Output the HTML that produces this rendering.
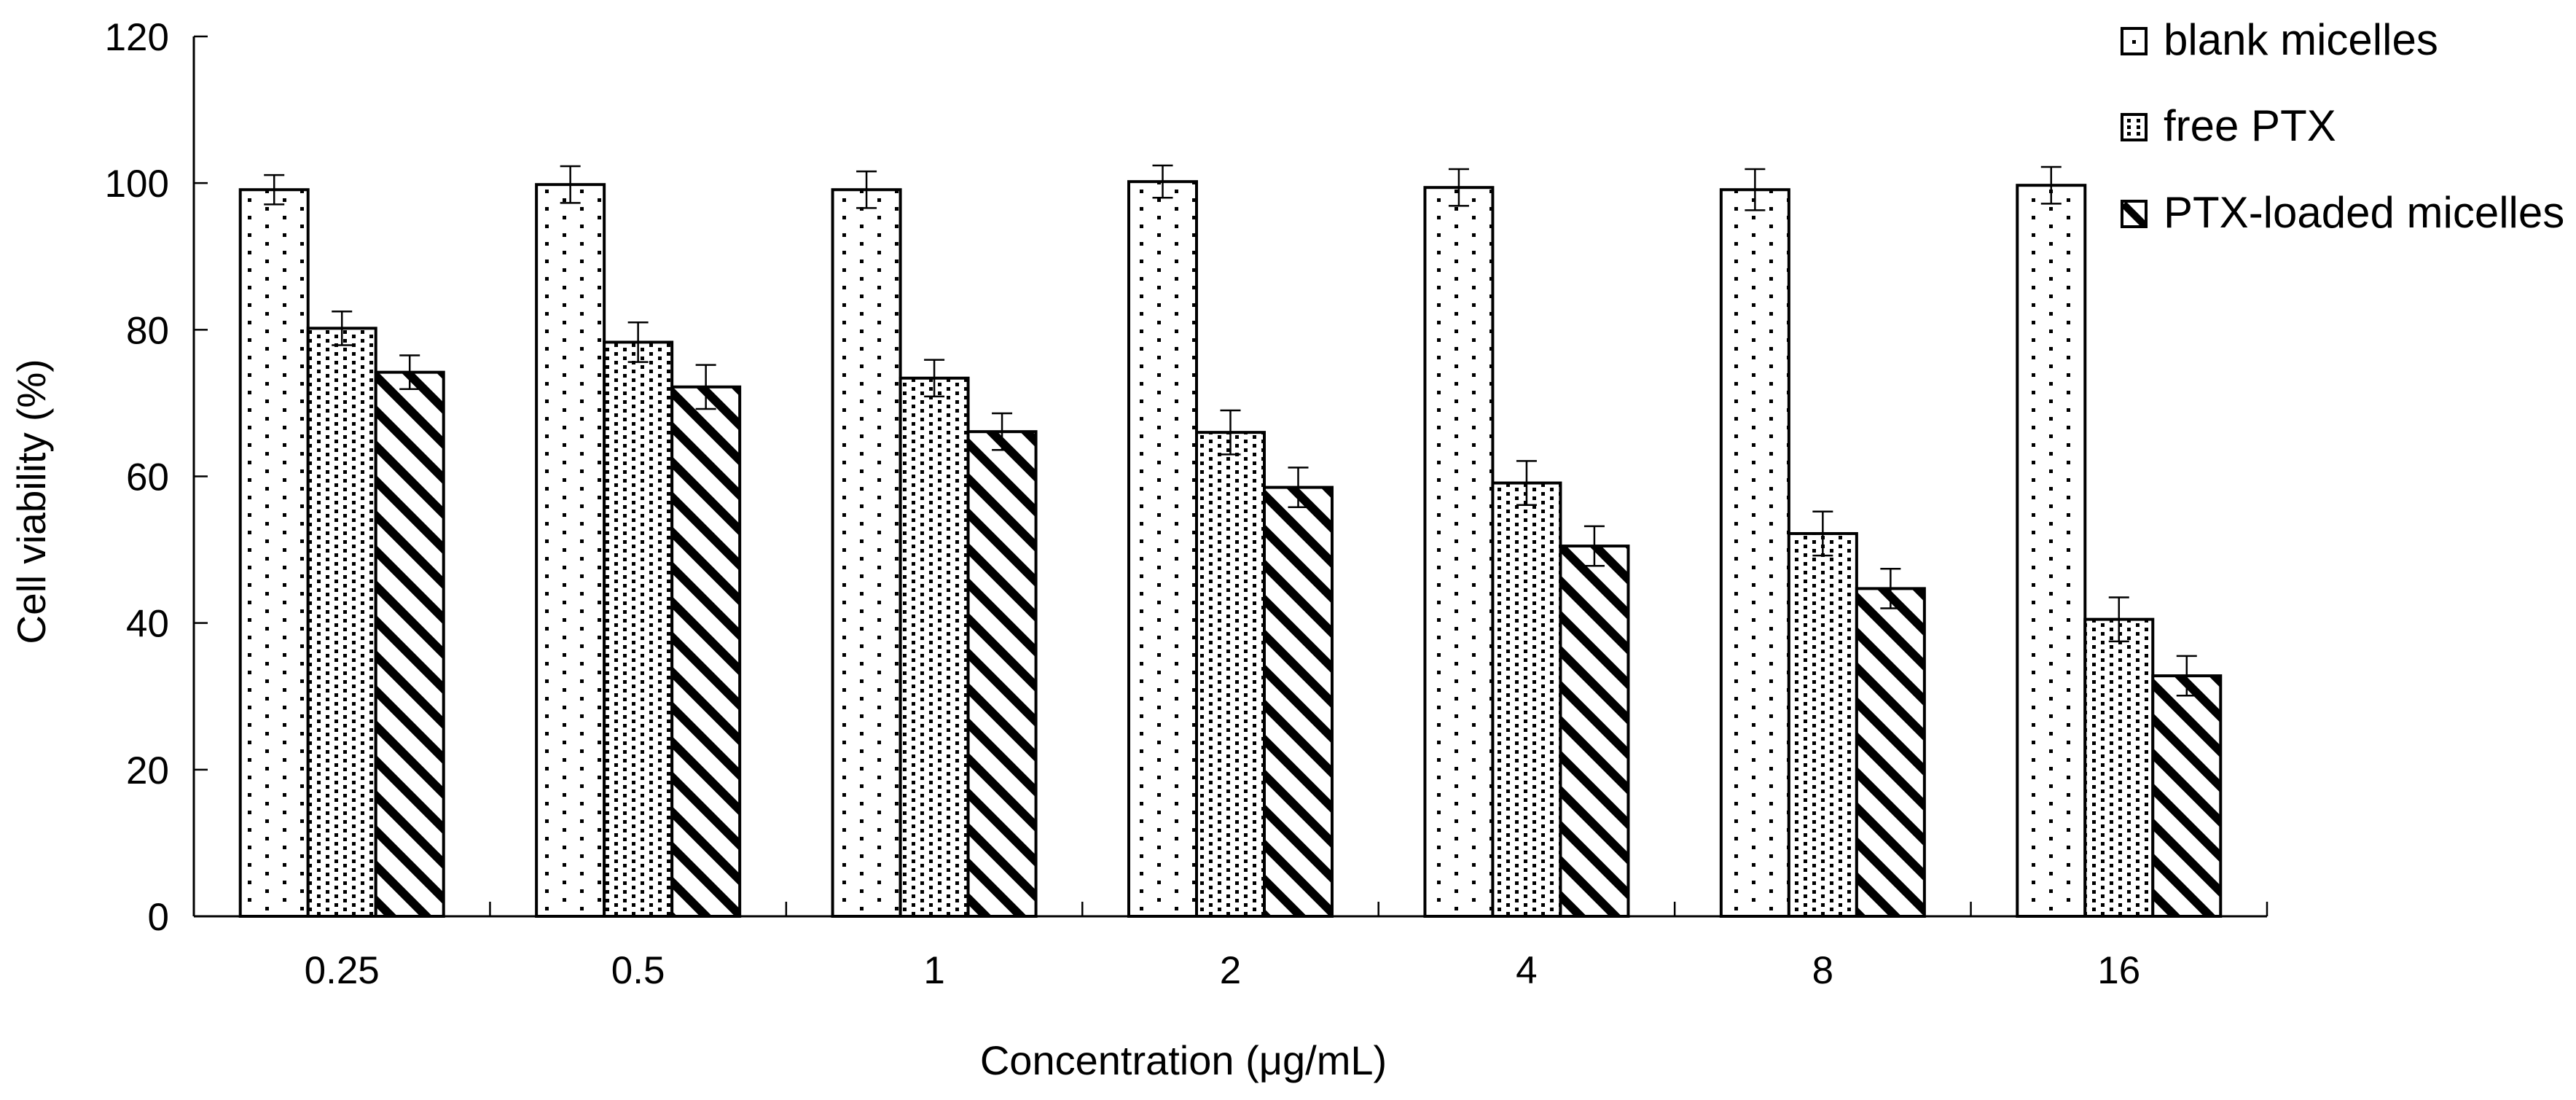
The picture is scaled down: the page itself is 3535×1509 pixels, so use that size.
<!DOCTYPE html>
<html><head><meta charset="utf-8">
<style>
html,body{margin:0;padding:0;background:#fff;}
svg{display:block;font-family:"Liberation Sans",Arial,sans-serif;}
</style></head>
<body>
<svg id="chart" width="3535" height="1509" viewBox="0 0 3535 1509" xmlns="http://www.w3.org/2000/svg">
<defs>
<pattern id="pBlank" patternUnits="userSpaceOnUse" width="48" height="24" x="340" y="8">
<rect x="0" y="0" width="48" height="24" fill="#fff"/>
<rect x="0" y="0" width="5" height="5" fill="#000"/>
<rect x="24" y="12" width="5" height="5" fill="#000"/>
</pattern>
<pattern id="pFree" patternUnits="userSpaceOnUse" width="24" height="12" x="3" y="3">
<rect x="0" y="0" width="24" height="12" fill="#fff"/>
<rect x="0" y="0" width="5" height="5" fill="#000"/>
<rect x="12" y="6" width="5" height="5" fill="#000"/>
</pattern>
<pattern id="pPtx" patternUnits="userSpaceOnUse" width="48" height="48">
<rect x="0" y="0" width="48" height="48" fill="#fff"/>
<path d="M-12,-12 L60,60 M-12,36 L12,60 M36,-12 L60,12" stroke="#000" stroke-width="12"/>
</pattern>
</defs>
<g id="plot"></g>
<text x="0" y="0" transform="translate(62,688) rotate(-90)" font-size="55" text-anchor="middle">Cell viability (%)</text>
<text x="1624" y="1474" font-size="56" text-anchor="middle">Concentration (μg/mL)</text>
<g>
<g>
<rect x="2912" y="39" width="33" height="35" fill="#fff" stroke="#000" stroke-width="4"/>
<rect x="2926" y="55" width="5" height="5" fill="#000"/>
<text x="2969" y="75" font-size="60">blank micelles</text>
</g>
<g>
<rect x="2912" y="157" width="33" height="35" fill="#fff" stroke="#000" stroke-width="4"/>
<rect x="2919" y="163" width="5" height="5" fill="#000"/><rect x="2932" y="163" width="5" height="5" fill="#000"/>
<rect x="2919" y="172" width="5" height="5" fill="#000"/><rect x="2932" y="172" width="5" height="5" fill="#000"/>
<rect x="2919" y="181" width="5" height="5" fill="#000"/><rect x="2932" y="181" width="5" height="5" fill="#000"/>
<text x="2969" y="193" font-size="60">free PTX</text>
</g>
<g>
<rect x="2912" y="276" width="33" height="35" fill="#fff" stroke="#000" stroke-width="4"/>
<path d="M2914,280 L2943,309" stroke="#000" stroke-width="10"/>
<text x="2969" y="312" font-size="60">PTX-loaded micelles</text>
</g>
</g>
</svg>
<script>
const categories = ["0.25","0.5","1","2","4","8","16"];
const blankValues = [99.1, 99.8, 99.1, 100.2, 99.4, 99.1, 99.7];
const freeValues = [80.2, 78.3, 73.4, 66.0, 59.1, 52.2, 40.5];
const ptxValues = [74.2, 72.2, 66.1, 58.5, 50.5, 44.7, 32.8];
const blankErrors = [2.0, 2.5, 2.5, 2.2, 2.5, 2.8, 2.5];
const freeErrors = [2.3, 2.7, 2.5, 3.0, 3.0, 3.0, 3.0];
const ptxErrors = [2.3, 3.0, 2.5, 2.7, 2.7, 2.7, 2.7];
const yTicks = [0, 20, 40, 60, 80, 100, 120];

const NS = "http://www.w3.org/2000/svg";
const X0 = 266, X1 = 3111, Y0 = 1257, Y1 = 50, YMAX = 120;
const groupW = (X1 - X0) / categories.length;
const barW = 93;
function yScale(v){ return Y0 - (v / YMAX) * (Y0 - Y1); }
function xGroup(i){ return X0 + i * groupW; }
const plot = document.getElementById("plot");
function mk(tag, attrs){ const e = document.createElementNS(NS, tag); for (const k in attrs) e.setAttribute(k, attrs[k]); plot.appendChild(e); return e; }

const series = [
  {vals: blankValues, errs: blankErrors, fill: "url(#pBlank)", name: "blank"},
  {vals: freeValues, errs: freeErrors, fill: "url(#pFree)", name: "free-ptx"},
  {vals: ptxValues, errs: ptxErrors, fill: "url(#pPtx)", name: "ptx-loaded"}
];
series.forEach((s, si) => {
  s.vals.forEach((v, i) => {
    const x = xGroup(i) + (groupW - 3 * barW) / 2 + si * barW;
    const y = yScale(v);
    const r = mk("rect", {x: x, y: y, width: barW, height: Y0 - y, fill: s.fill, stroke: "#000", "stroke-width": 4});
    
    
    const cx = x + barW / 2, yt = yScale(v + s.errs[i]), yb = yScale(v - s.errs[i]);
    const eb = mk("path", {d: `M${cx},${yt} L${cx},${yb} M${cx-14},${yt} L${cx+14},${yt} M${cx-14},${yb} L${cx+14},${yb}`, stroke: "#000", "stroke-width": 2.5, fill: "none"});
    
    
  });
});

// axes
const ya = mk("line", {x1: X0, y1: Y1, x2: X0, y2: Y0, stroke: "#000", "stroke-width": 3});


const xa = mk("line", {x1: X0, y1: Y0, x2: X1, y2: Y0, stroke: "#000", "stroke-width": 3});



yTicks.forEach(t => {
  const y = yScale(t);
  const tk = mk("line", {x1: X0, y1: y, x2: X0 + 19, y2: y, stroke: "#000", "stroke-width": 2.5});
  
  
  const lb = mk("text", {x: 232, y: y + 19, "font-size": 53, "text-anchor": "end"});
  lb.textContent = t;
  
  
});
for (let k = 1; k <= categories.length; k++) {
  const x = xGroup(k);
  const tk = mk("line", {x1: x, y1: Y0, x2: x, y2: Y0 - 20, stroke: "#000", "stroke-width": 2.5});
  
  
}
categories.forEach((c, i) => {
  const lb = mk("text", {x: xGroup(i) + groupW / 2, y: 1349, "font-size": 53, "text-anchor": "middle"});
  lb.textContent = c;
  
  
});
</script>
</body></html>
